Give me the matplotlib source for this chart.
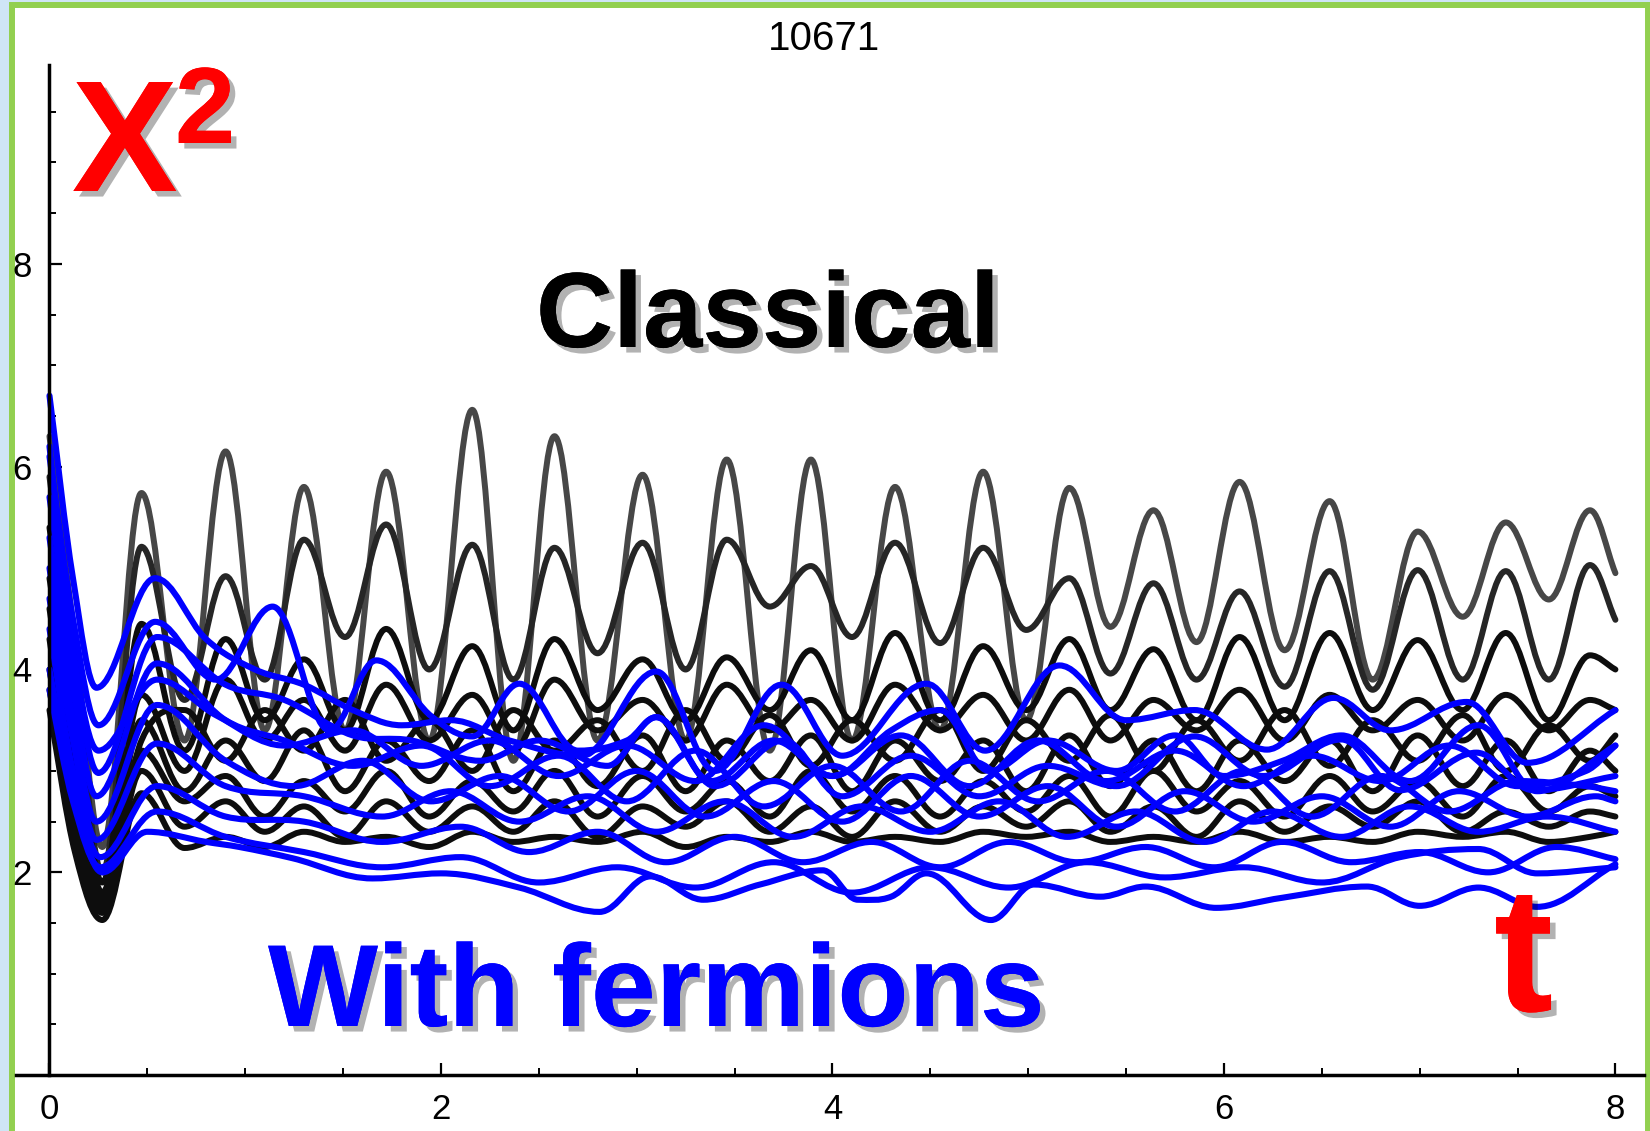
import matplotlib
matplotlib.use("Agg")
import matplotlib.pyplot as plt
import matplotlib.patheffects as pe
from matplotlib import font_manager
from matplotlib.patches import Rectangle, PathPatch
from matplotlib.path import Path
from matplotlib.ticker import FixedLocator, MultipleLocator

# ---- data ----------------------------------------------------------------
X_TICKS = [0, 2, 4, 6, 8]
Y_TICKS = [2, 4, 6, 8]
TITLE = "10671"

# classical curves: extremum times shared by all of them
T_BLACK = [0.0, 0.13, 0.27, 0.47, 0.69, 0.90, 1.10, 1.30, 1.51, 1.72, 1.94,
           2.16, 2.37, 2.58, 2.80, 3.03, 3.25, 3.46, 3.68, 3.89, 4.10, 4.32,
           4.55, 4.77, 4.99, 5.21, 5.42, 5.64, 5.86, 6.08, 6.31, 6.54, 6.76,
           6.99, 7.22, 7.44, 7.66, 7.87, 8.0]

black_1 = [6.3, 4.3, 2.25, 5.74, 3.3, 6.15, 3.4, 5.80, 3.4, 5.95, 3.3, 6.56, 3.1,
           6.30, 3.3, 5.92, 3.3, 6.07, 3.2, 6.07, 3.3, 5.80, 3.4, 5.95, 3.5, 5.79,
           4.42, 5.57, 4.27, 5.85, 4.19, 5.66, 3.90, 5.36, 4.52, 5.45, 4.69, 5.57, 4.95]
black_2 = [5.9, 4.0, 2.0, 5.21, 3.7, 4.92, 3.9, 5.28, 4.32, 5.43, 4.0, 5.23, 3.9,
           5.20, 4.16, 5.25, 4.0, 5.28, 4.62, 5.02, 4.32, 5.25, 4.26, 5.20, 4.39, 4.90,
           3.96, 4.85, 3.90, 4.77, 3.83, 4.97, 3.80, 4.98, 3.90, 4.97, 3.90, 5.03, 4.49]
black_3 = [5.4, 3.6, 1.9, 4.45, 3.2, 4.3, 3.5, 4.1, 3.4, 4.4, 3.5, 4.23, 3.4,
           4.3, 3.6, 4.1, 3.5, 4.12, 3.6, 4.19, 3.5, 4.36, 3.5, 4.23, 3.6, 4.3,
           3.6, 4.2, 3.5, 4.32, 3.5, 4.36, 3.6, 4.29, 3.6, 4.36, 3.5, 4.14, 4.0]
black_4 = [4.9, 3.3, 1.8, 3.75, 3.0, 3.9, 3.3, 3.7, 3.2, 3.85, 3.3, 3.75, 3.2,
           3.9, 3.4, 3.7, 3.3, 3.85, 3.4, 3.7, 3.3, 3.85, 3.4, 3.75, 3.3, 3.8,
           3.3, 3.7, 3.4, 3.8, 3.3, 3.75, 3.4, 3.7, 3.3, 3.75, 3.4, 3.7, 3.6]
black_5 = [4.6, 3.0, 1.75, 3.3, 3.6, 3.1, 3.6, 3.2, 3.7, 3.1, 3.5, 3.0, 3.6,
           3.2, 3.5, 3.0, 3.6, 3.1, 3.55, 3.05, 3.5, 3.1, 3.6, 3.0, 3.5, 3.1,
           3.55, 3.0, 3.5, 3.1, 3.6, 3.05, 3.5, 3.1, 3.55, 3.0, 3.45, 3.1, 3.35]
black_6 = [4.3, 2.7, 1.7, 3.5, 2.8, 3.3, 2.9, 3.4, 2.8, 3.3, 2.9, 3.4, 2.8,
           3.3, 2.85, 3.35, 2.8, 3.3, 2.9, 3.35, 2.8, 3.3, 2.9, 3.3, 2.8, 3.35,
           2.85, 3.3, 2.8, 3.3, 2.9, 3.3, 2.8, 3.35, 2.85, 3.3, 2.8, 3.2, 3.0]
black_7 = [4.0, 2.5, 1.65, 3.2, 2.7, 2.95, 2.55, 2.9, 2.6, 3.0, 2.55, 2.9, 2.6,
           3.0, 2.55, 2.95, 2.6, 2.9, 2.55, 3.0, 2.6, 2.95, 2.55, 2.9, 2.6, 2.95,
           2.55, 3.0, 2.6, 2.9, 2.55, 2.95, 2.6, 2.9, 2.55, 2.95, 2.6, 2.85, 2.75]
black_8 = [3.8, 2.4, 1.6, 3.0, 2.45, 2.7, 2.4, 2.65, 2.35, 2.7, 2.4, 2.65, 2.4,
           2.7, 2.35, 2.65, 2.45, 2.7, 2.4, 2.65, 2.35, 2.7, 2.4, 2.65, 2.45, 2.7,
           2.4, 2.65, 2.35, 2.7, 2.4, 2.65, 2.45, 2.7, 2.4, 2.6, 2.45, 2.6, 2.55]
black_9 = [3.6, 2.2, 1.53, 2.78, 2.24, 2.35, 2.25, 2.4, 2.3, 2.35, 2.25, 2.4, 2.3,
           2.35, 2.3, 2.4, 2.25, 2.35, 2.3, 2.4, 2.3, 2.35, 2.3, 2.4, 2.35, 2.4,
           2.3, 2.35, 2.3, 2.4, 2.3, 2.35, 2.3, 2.4, 2.35, 2.4, 2.3, 2.35, 2.4]

# curves with fermions: each has its own times
blue_1_t = [0, 0.12, 0.24, 0.54, 0.8, 1.05, 1.3, 1.55, 1.8, 2.05, 2.35, 2.72, 3.10,
            3.40, 3.74, 4.05, 4.48, 4.78, 5.16, 5.5, 5.85, 6.22, 6.56, 6.85, 7.24,
            7.55, 8.0]
blue_1 = [6.7, 4.9, 3.82, 4.90, 4.3, 4.0, 3.85, 3.6, 3.45, 3.5, 3.3, 3.15, 3.98,
          3.0, 3.85, 3.15, 3.86, 3.2, 4.04, 3.5, 3.6, 3.21, 3.72, 3.40, 3.68,
          3.08, 3.6]
blue_2_t = [0, 0.12, 0.25, 0.54, 0.85, 1.14, 1.43, 1.67, 1.95, 2.16, 2.40, 2.70,
            2.95, 3.10, 3.38, 3.7, 4.0, 4.3, 4.55, 4.8, 5.1, 5.45, 5.75, 6.0, 6.3,
            6.6, 6.95, 7.3, 7.6, 8.0]
blue_2 = [6.1, 4.5, 3.45, 4.47, 3.9, 4.62, 3.40, 4.09, 3.54, 3.34, 3.86, 3.2, 3.3,
          3.53, 2.9, 3.3, 2.95, 3.4, 3.6, 3.0, 3.3, 3.0, 3.35, 2.95, 3.1, 3.35,
          2.9, 3.45, 2.8, 3.25]
blue_3_t = [0, 0.12, 0.25, 0.55, 0.9, 1.2, 1.55, 1.85, 2.2, 2.5, 2.85, 3.1, 3.4,
            3.75, 4.05, 4.4, 4.75, 5.1, 5.45, 5.85, 6.2, 6.6, 6.9, 7.29, 7.58, 8.0]
blue_3 = [5.7, 4.1, 2.98, 4.32, 3.85, 3.7, 3.35, 3.3, 3.1, 3.3, 3.05, 3.53, 2.85,
          3.3, 2.75, 3.15, 2.75, 3.05, 2.85, 3.34, 2.95, 3.31, 2.81, 3.18, 2.81,
          2.95]
blue_4_t = [0, 0.12, 0.24, 0.55, 0.9, 1.2, 1.55, 1.9, 2.25, 2.6, 2.95, 3.3, 3.65,
            4.0, 4.35, 4.7, 5.05, 5.4, 5.75, 6.1, 6.45, 6.8, 7.15, 7.5, 7.85, 8.0]
blue_4 = [5.3, 3.8, 2.75, 4.06, 3.5, 3.3, 3.05, 3.25, 2.85, 3.15, 2.7, 3.2, 2.65,
          3.05, 2.6, 3.1, 2.7, 3.0, 2.6, 3.0, 2.55, 2.95, 2.6, 2.9, 2.85, 2.8]
blue_5_t = [0, 0.12, 0.24, 0.55, 0.9, 1.25, 1.6, 1.95, 2.3, 2.65, 3.0, 3.35, 3.7,
            4.05, 4.4, 4.75, 5.1, 5.45, 5.8, 6.15, 6.5, 6.85, 7.2, 7.55, 7.9, 8.0]
blue_5 = [5.0, 3.5, 2.5, 3.65, 3.1, 2.85, 3.1, 2.7, 2.95, 2.6, 3.0, 2.55, 2.9,
          2.5, 2.95, 2.55, 2.85, 2.45, 2.8, 2.5, 2.75, 2.45, 2.8, 2.55, 2.75, 2.7]
blue_6_t = [0, 0.12, 0.24, 0.55, 0.9, 1.3, 1.7, 2.05, 2.4, 2.75, 3.1, 3.45, 3.8,
            4.15, 4.5, 4.85, 5.2, 5.55, 5.9, 6.25, 6.6, 6.95, 7.3, 7.65, 8.0]
blue_6 = [4.7, 3.3, 2.32, 3.27, 2.85, 2.75, 2.55, 2.8, 2.5, 2.75, 2.4, 2.7, 2.35,
          2.65, 2.4, 2.7, 2.35, 2.6, 2.3, 2.6, 2.35, 2.65, 2.4, 2.55, 2.4]
blue_7_t = [0, 0.12, 0.26, 0.55, 0.9, 1.3, 1.7, 2.1, 2.45, 2.8, 3.15, 3.5, 3.85,
            4.2, 4.55, 4.9, 5.25, 5.6, 5.95, 6.3, 6.65, 7.0, 7.35, 7.7, 8.0]
blue_7 = [4.4, 3.0, 2.15, 2.85, 2.55, 2.5, 2.3, 2.45, 2.2, 2.4, 2.1, 2.35, 2.1,
          2.3, 2.05, 2.3, 2.1, 2.25, 2.05, 2.3, 2.1, 2.2, 2.0, 2.25, 2.13]
blue_8_t = [0, 0.12, 0.27, 0.5, 0.8, 0.97, 1.24, 1.65, 2.0, 2.4, 2.81, 3.07, 3.34,
            3.63, 3.95, 4.13, 4.30, 4.48, 4.81, 5.03, 5.37, 5.6, 5.96, 6.3, 6.73,
            7.0, 7.3, 7.6, 8.0]
blue_8 = [4.0, 2.8, 2.0, 2.4, 2.3, 2.25, 2.14, 1.94, 1.99, 1.85, 1.61, 1.96, 1.73,
          1.88, 2.02, 1.73, 1.76, 1.99, 1.53, 1.88, 1.76, 1.86, 1.65, 1.75, 1.86,
          1.67, 1.85, 1.66, 2.08]
blue_9_t = [0, 0.12, 0.26, 0.55, 0.9, 1.3, 1.7, 2.1, 2.5, 2.9, 3.3, 3.7, 4.1, 4.5,
            4.9, 5.3, 5.7, 6.1, 6.5, 6.9, 7.3, 7.6, 8.0]
blue_9 = [3.8, 2.7, 2.05, 2.6, 2.35, 2.2, 2.05, 2.15, 1.9, 2.05, 1.85, 2.1, 1.8,
          2.05, 1.85, 2.1, 1.95, 2.05, 1.9, 2.15, 2.23, 1.99, 2.05]
blue_10_t = [0, 0.12, 0.25, 0.55, 0.85, 1.2, 1.55, 1.9, 2.25, 2.6, 2.95, 3.3, 3.65,
             4.0, 4.35, 4.7, 5.05, 5.4, 5.75, 6.1, 6.45, 6.8, 7.15, 7.5, 7.85, 8.0]
blue_10 = [6.2, 4.2, 3.2, 3.9, 3.55, 3.25, 3.4, 3.05, 3.3, 2.95, 3.25, 2.9, 3.45,
           2.95, 3.35, 2.85, 3.3, 2.9, 3.2, 2.85, 3.15, 2.9, 3.25, 2.85, 3.0, 3.25]

black_curves = [black_1, black_2, black_3, black_4, black_5, black_6, black_7,
                black_8, black_9]
black_colors = ["#474747", "#262626"] + ["#0d0d0d"] * 7
blue_curves = [(blue_1_t, blue_1), (blue_2_t, blue_2), (blue_3_t, blue_3),
               (blue_4_t, blue_4), (blue_5_t, blue_5), (blue_6_t, blue_6),
               (blue_7_t, blue_7), (blue_8_t, blue_8), (blue_9_t, blue_9),
               (blue_10_t, blue_10)]

W, H = 1650, 1131


def fx(px):
    return px / W


def fy(py):
    return 1 - py / H


def pick_font(names):
    for name in names:
        try:
            font_manager.findfont(font_manager.FontProperties(family=name),
                                  fallback_to_default=False)
            return name
        except ValueError:
            pass
    return "DejaVu Sans"


def wave_path(t, v, k=0.36):
    # bezier curve through the read points, flat at every turning point
    n = len(t)
    slopes = []
    for i in range(n):
        if i == 0:
            s = (v[1] - v[0]) / (t[1] - t[0])
        elif i == n - 1:
            s = (v[-1] - v[-2]) / (t[-1] - t[-2])
        elif (v[i] - v[i - 1]) * (v[i + 1] - v[i]) <= 0:
            s = 0.0
        else:
            s = (v[i + 1] - v[i - 1]) / (t[i + 1] - t[i - 1])
        slopes.append(s)
    verts = [(t[0], v[0])]
    codes = [Path.MOVETO]
    for i in range(n - 1):
        dt = t[i + 1] - t[i]
        verts += [(t[i] + k * dt, v[i] + k * dt * slopes[i]),
                  (t[i + 1] - k * dt, v[i + 1] - k * dt * slopes[i + 1]),
                  (t[i + 1], v[i + 1])]
        codes += [Path.CURVE4] * 3
    return Path(verts, codes)


tick_font = pick_font(["Liberation Sans Narrow", "Liberation Sans"])
big_font = pick_font(["Liberation Sans", "DejaVu Sans"])

fig = plt.figure(figsize=(W / 100, H / 100), dpi=100)
fig.patch.set_facecolor("#cfe5f6")

# white slide panel with green frame
panel = Rectangle((fx(11.5), -0.05), fx(1648) - fx(11.5), fy(5) + 0.05,
                  transform=fig.transFigure, facecolor="white",
                  edgecolor="#92d050", linewidth=4.3, zorder=0)
fig.add_artist(panel)

ax = fig.add_axes([fx(15.8), fy(1075.2), fx(1644) - fx(15.8), fy(65) - fy(1075.2)])
ax.set_facecolor("none")
ax.set_xlim(-0.172, 8.146)
ax.set_ylim(0, 9.96)

for vals, col in zip(black_curves, black_colors):
    ax.add_patch(PathPatch(wave_path(T_BLACK, vals), facecolor="none",
                           edgecolor=col, lw=4.3, joinstyle="round",
                           capstyle="round", zorder=2))
for t, vals in blue_curves:
    ax.add_patch(PathPatch(wave_path(t, vals), facecolor="none",
                           edgecolor="#0000ff", lw=4.4, joinstyle="round",
                           capstyle="round", zorder=3))

for side in ("top", "right"):
    ax.spines[side].set_visible(False)
ax.spines["left"].set_position(("data", 0))
ax.spines["left"].set_linewidth(2.5)
ax.spines["bottom"].set_linewidth(2.5)
ax.spines["left"].set_zorder(4)

ax.xaxis.set_major_locator(FixedLocator(X_TICKS))
ax.yaxis.set_major_locator(FixedLocator(Y_TICKS))
ax.xaxis.set_minor_locator(MultipleLocator(0.5))
ax.yaxis.set_minor_locator(MultipleLocator(0.5))
ax.set_xticklabels([str(v) for v in X_TICKS], fontfamily=tick_font, fontsize=25)
ax.set_yticklabels([str(v) for v in Y_TICKS], fontfamily=tick_font, fontsize=25)
ax.tick_params(which="major", direction="in", length=9, width=1.6, pad=13)
ax.tick_params(which="minor", direction="in", length=5, width=1.4)

fig.text(fx(824), fy(39), TITLE, ha="center", va="center",
         fontfamily=tick_font, fontsize=29)

shadow = [pe.withSimplePatchShadow(offset=(4, -4), shadow_rgbFace="#000000",
                                   alpha=0.3), pe.Normal()]
fig.text(fx(72), fy(191), "X", ha="left", va="baseline", color="#ff0000",
         fontfamily=big_font, fontweight="bold", fontsize=114, path_effects=shadow)
fig.text(fx(175), fy(143), "2", ha="left", va="baseline", color="#ff0000",
         fontfamily=big_font, fontweight="bold", fontsize=78, path_effects=shadow)
fig.text(fx(536), fy(347), "Classical", ha="left", va="baseline", color="black",
         fontfamily=big_font, fontweight="bold", fontsize=77, path_effects=shadow)
fig.text(fx(268), fy(1026), "With fermions", ha="left", va="baseline",
         color="#0000ff", fontfamily=big_font, fontweight="bold", fontsize=84,
         path_effects=shadow)
fig.text(fx(1494), fy(1011), "t", ha="left", va="baseline", color="#ff0000",
         fontfamily=big_font, fontweight="bold", fontsize=128, path_effects=shadow)

fig.savefig("out.png", dpi=100, facecolor=fig.get_facecolor())
